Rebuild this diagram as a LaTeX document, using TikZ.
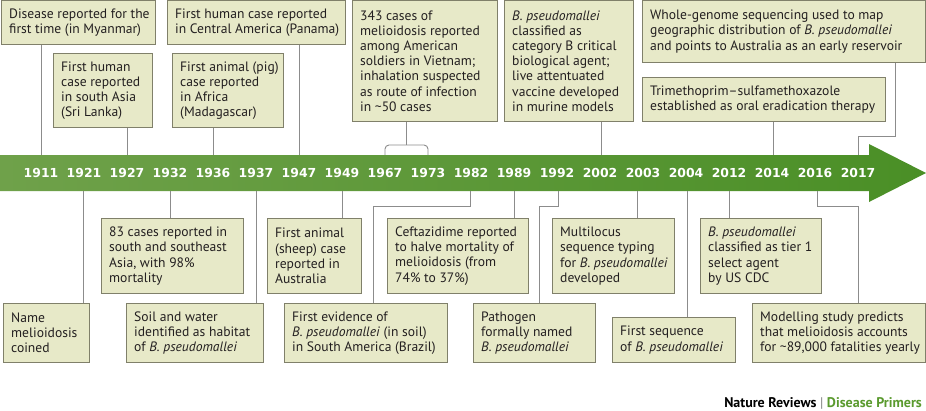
\documentclass[tikz,border=0pt]{standalone}
\usepackage{fontspec}
\setmainfont{PT Sans}
\newfontfamily\yearfont{DejaVu Sans}
\usetikzlibrary{calc}
\definecolor{boxfill}{HTML}{E7E9C8}
\definecolor{boxline}{HTML}{80806A}
\definecolor{connline}{HTML}{8C8C8C}
\definecolor{bandL}{HTML}{6FA14A}
\definecolor{bandR}{HTML}{4A8F26}
\definecolor{txt}{HTML}{231F20}
\definecolor{npgreen}{HTML}{5A9A2E}
\newcommand\evbox[6]{%
  \node[evbox, minimum width=#4pt, minimum height=#5pt] (#1) at (#2,#3) {};
  \node[evtext] (#1t) at ([xshift=8pt]#1.west) {#6};}
\newcommand\bp{\textit{B.~pseudomallei}}
\begin{document}
\begin{tikzpicture}[x=1pt,y=-1pt,
  evbox/.style={draw=boxline, fill=boxfill, line width=1pt, anchor=north west, inner sep=0pt},
  evtext/.style={anchor=west, align=left, inner sep=0pt, text=txt, font=\fontsize{13.6}{15.2}\selectfont},
  conn/.style={draw=connline, line width=0.9pt},
  yr/.style={text=white, font=\yearfont\bfseries\fontsize{12.4}{14}\selectfont, inner sep=0pt}]
\fill[white] (0,0) rectangle (926,410);
\useasboundingbox (0,0) rectangle (926,410);
% band arrow
\shade[left color=bandL, right color=bandR] (0,155) -- (869,155) -- (869,144) -- (926,173) -- (869,202) -- (869,191) -- (0,191) -- cycle;
\foreach \x/\yv in {41/1911,84/1921,127/1927,170/1932,213/1936,256/1937,299/1947,342/1949,385/1967,428/1973,471/1982,514/1989,557/1992,600/2002,643/2003,686/2004,729/2012,772/2014,815/2016,858/2017}
  \node[yr] (y\yv) at (\x,173) {\yv};
% band attachment points
\coordinate (a1911) at (41,155);
\coordinate (a1927) at (127,155);
\coordinate (a1936) at (213,155);
\coordinate (a1947) at (299,155);
\coordinate (a1967) at (385,155);
\coordinate (a1973) at (428,155);
\coordinate (a2002) at (601,155);
\coordinate (a2014) at (773,155);
\coordinate (a2017) at (858,155);
\coordinate (b1921) at (83,191);
\coordinate (b1932) at (170,191);
\coordinate (b1937) at (256,191);
\coordinate (b1949) at (342,191);
\coordinate (b1982) at (470,191);
\coordinate (b1989) at (514,191);
\coordinate (b1992) at (558,191);
\coordinate (b2003) at (637,191);
\coordinate (b2004) at (687,191);
\coordinate (b2012) at (729,191);
\coordinate (b2016) at (817,191);
\coordinate (brk) at (406,145);
\coordinate (j7) at (895,136);
\coordinate (j8) at (373,206);
\coordinate (j9) at (539,206);
\coordinate (j11) at (858,206);
% top boxes
\evbox{t1}{1}{0}{154}{44}{Disease reported for the\\first time (in Myanmar)}
\evbox{t2}{53}{53}{99}{74}{First human\\case reported\\in south Asia\\(Sri Lanka)}
\evbox{t3}{172}{53}{111}{74}{First animal (pig)\\case reported\\in Africa\\(Madagascar)}
\evbox{t4}{167}{0}{178}{44}{First human case reported\\in Central America (Panama)}
\evbox{t5}{352}{0}{145}{121}{343 cases of\\melioidosis reported\\among American\\soldiers in Vietnam;\\inhalation suspected\\as route of infection\\in \textasciitilde50 cases}
\evbox{t6}{504}{0}{129}{121}{\bp\\classified as\\category B critical\\biological agent;\\live attentuated\\vaccine developed\\in murine models}
\evbox{t7}{642}{0}{283}{62}{Whole-genome sequencing used to map\\geographic distribution of \bp\\and points to Australia as an early reservoir}
\evbox{t8}{642}{77}{243}{44}{Trimethoprim–sulfamethoxazole\\established as oral eradication therapy}
% bottom boxes
\evbox{b1}{101}{218}{142}{75}{83 cases reported in\\south and southeast\\Asia, with 98\%\\mortality}
\evbox{b2}{267}{218}{94}{75}{First animal\\(sheep) case\\reported in\\Australia}
\evbox{b3}{387}{218}{141}{75}{Ceftazidime reported\\to halve mortality of\\melioidosis (from\\74\% to 37\%)}
\evbox{b4}{552}{218}{122}{75}{Multilocus\\sequence typing\\for \bp\\developed}
\evbox{b5}{700}{218}{121}{75}{\bp\\classified as tier 1\\select agent\\by US CDC}
\evbox{b6}{3}{303}{86}{59}{Name\\melioidosis\\coined}
\evbox{b7}{126}{303}{137}{59}{Soil and water\\identified as habitat\\of \bp}
\evbox{b8}{284}{303}{163}{59}{First evidence of\\\bp{} (in soil)\\in South America (Brazil)}
\evbox{b9}{473}{303}{122}{59}{Pathogen\\formally named\\\bp}
\evbox{b10}{612}{317}{123}{45}{First sequence\\of \bp}
\evbox{b11}{752}{303}{173}{59}{Modelling study predicts\\that melioidosis accounts\\for \textasciitilde89,000 fatalities yearly}
% connectors top
\draw[conn] (a1911 |- t1.south) -- (a1911);
\draw[conn] (a1927 |- t2.south) -- (a1927);
\draw[conn] (a1936 |- t3.south) -- (a1936);
\draw[conn] (a1947 |- t4.south) -- (a1947);
\draw[conn] (brk |- t5.south) -- (brk);
\draw[conn, rounded corners=4pt] (a1967) |- (brk) -| (a1973);
\draw[conn] (a2002 |- t6.south) -- (a2002);
\draw[conn] (j7 |- t7.south) -- (j7) -| (a2017);
\draw[conn] (a2014 |- t8.south) -- (a2014);
% connectors bottom
\draw[conn] (b1921) -- (b1921 |- b6.north);
\draw[conn] (b1932) -- (b1932 |- b1.north);
\draw[conn] (b1937) -- (b1937 |- b7.north);
\draw[conn] (b1949) -- (b1949 |- b2.north);
\draw[conn] (b1982) |- (j8) -- (j8 |- b8.north);
\draw[conn] (b1989) -- (b1989 |- b3.north);
\draw[conn] (b1992) |- (j9) -- (j9 |- b9.north);
\draw[conn] (b2003) -- (b2003 |- b4.north);
\draw[conn] (b2004) -- (b2004 |- b10.north);
\draw[conn] (b2012) -- (b2012 |- b5.north);
\draw[conn] (b2016) |- (j11) -- (j11 |- b11.north);
% footer
\node[anchor=base east, inner sep=0pt, font=\bfseries\fontsize{14}{16}\selectfont] (foot) at (922,407) {Nature Reviews {\color{gray}\mdseries|} \textcolor{npgreen}{Disease Primers}};
\end{tikzpicture}
\end{document}
